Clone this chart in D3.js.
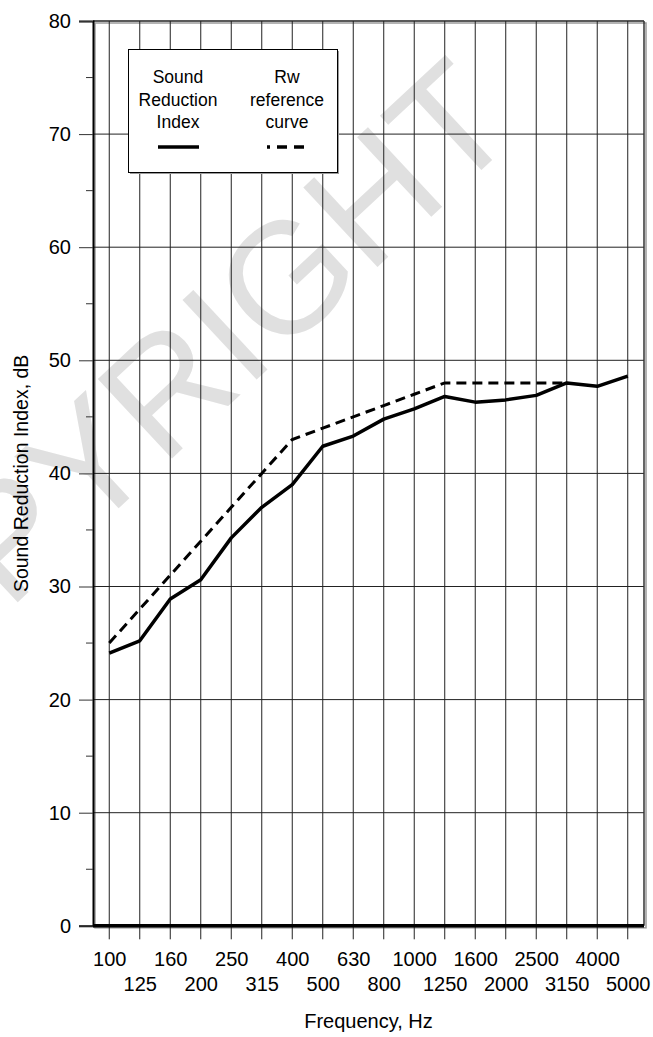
<!DOCTYPE html>
<html>
<head>
<meta charset="utf-8">
<script src="https://cdn.jsdelivr.net/npm/d3@7"></script>
<style>
  body { margin: 0; background: #fff; }
  svg text { font-family: "Liberation Sans", Arial, sans-serif; fill: #000; }
</style>
</head>
<body>
<svg id="svg-graph" width="653" height="1037"></svg>
<script>
//Third octave band centre frequencies (Hz)
const frequencies = ["100", "125", "160", "200", "250", "315", "400", "500", "630",
  "800", "1000", "1250", "1600", "2000", "2500", "3150", "4000", "5000"];
//Measured sound reduction index, dB
const soundReductionIndex = [24.1, 25.2, 28.9, 30.6, 34.3, 37.0, 39.0, 42.4, 43.3,
  44.8, 45.7, 46.8, 46.3, 46.5, 46.9, 48.0, 47.7, 48.6];
//Shifted Rw reference curve, dB (100 - 3150 Hz)
const rwFrequencies = ["100", "125", "160", "200", "250", "315", "400", "500", "630",
  "800", "1000", "1250", "1600", "2000", "2500", "3150"];
const rwReferenceCurve = [25, 28, 31, 34, 37, 40, 43, 44, 45, 46, 47, 48, 48, 48, 48, 48];
//Axis ticks
const yMajorTicks = [0, 10, 20, 30, 40, 50, 60, 70, 80];
const yMinorTicks = [5, 15, 25, 35, 45, 55, 65, 75];

document.addEventListener("DOMContentLoaded", () => {
  const svg = d3.select("#svg-graph");

  //Plot frame
  const left = 93, right = 644, top = 21, bottom = 925.8;

  const xScale = d3.scalePoint().domain(frequencies).range([left, right]).padding(0.533);
  const yScale = d3.scaleLinear().domain([0, 80]).range([bottom, top]);

  //Watermark in the background
  svg.append("text")
    .attr("transform", "translate(522,132) rotate(-43)")
    .attr("text-anchor", "end")
    .style("font-size", "158px")
    .style("fill", "#e0e0e0")
    .text("COPYRIGHT");

  //Frame shadow
  svg.append("rect")
    .attr("x", left + 2).attr("y", top + 2)
    .attr("width", right - left).attr("height", bottom - top)
    .attr("fill", "none").attr("stroke", "#9a9a9a").attr("stroke-width", 1.5);

  //Horizontal grid
  svg.append("g")
    .selectAll("line")
    .data(yMajorTicks.filter((d) => d > 0 && d < 80))
    .enter()
    .append("line")
    .attr("x1", left).attr("x2", right)
    .attr("y1", (d) => yScale(d)).attr("y2", (d) => yScale(d))
    .attr("stroke", "#222").attr("stroke-width", 1);

  //Vertical grid (runs through the axis as tick marks)
  svg.append("g")
    .selectAll("line")
    .data(frequencies)
    .enter()
    .append("line")
    .attr("x1", (d) => xScale(d)).attr("x2", (d) => xScale(d))
    .attr("y1", top).attr("y2", bottom + 13.5)
    .attr("stroke", "#222").attr("stroke-width", 1);

  //Frame
  svg.append("line").attr("x1", left).attr("x2", right).attr("y1", top).attr("y2", top)
    .attr("stroke", "#222").attr("stroke-width", 1.5);
  svg.append("line").attr("x1", right).attr("x2", right).attr("y1", top).attr("y2", bottom)
    .attr("stroke", "#333").attr("stroke-width", 1.5);

  //Y axis
  const yAxis = d3.axisLeft(yScale).tickValues(yMajorTicks).tickSize(14).tickPadding(8);
  const gy = svg.append("g").attr("transform", `translate(${left}, 0)`).call(yAxis);
  gy.select(".domain").attr("stroke", "#000").attr("stroke-width", 2);
  gy.selectAll(".tick line").attr("stroke", "#333");
  gy.selectAll(".tick text").style("font-size", "20px").attr("font-family", null);
  svg.append("g")
    .selectAll("line")
    .data(yMinorTicks)
    .enter()
    .append("line")
    .attr("x1", left - 7).attr("x2", left)
    .attr("y1", (d) => yScale(d)).attr("y2", (d) => yScale(d))
    .attr("stroke", "#333");

  //X axis labels in two staggered rows
  const xAxis = d3.axisBottom(xScale).tickSize(0).tickPadding(0);
  const gx = svg.append("g").attr("transform", `translate(0, ${bottom})`).call(xAxis);
  gx.select(".domain").remove();
  gx.selectAll(".tick text")
    .style("font-size", "20px").attr("font-family", null)
    .attr("dy", null)
    .attr("y", (d, i) => (i % 2 === 0 ? 40 : 65));

  //Bottom axis line
  svg.append("line").attr("x1", left).attr("x2", right).attr("y1", bottom).attr("y2", bottom)
    .attr("stroke", "#000").attr("stroke-width", 3.5);

  //Axis titles
  svg.append("text")
    .attr("x", (left + right) / 2).attr("y", 1028)
    .attr("text-anchor", "middle").style("font-size", "20px")
    .text("Frequency, Hz");
  svg.append("text")
    .attr("transform", `translate(28, ${(top + bottom) / 2}) rotate(-90)`)
    .attr("text-anchor", "middle").style("font-size", "19.5px")
    .text("Sound Reduction Index, dB");

  //Data lines
  const line = d3.line()
    .x((d) => xScale(d[0]))
    .y((d) => yScale(d[1]));

  svg.append("path")
    .datum(d3.zip(rwFrequencies, rwReferenceCurve))
    .attr("d", line)
    .attr("fill", "none").attr("stroke", "#000")
    .attr("stroke-width", 3).attr("stroke-dasharray", "10,6");

  svg.append("path")
    .datum(d3.zip(frequencies, soundReductionIndex))
    .attr("d", line)
    .attr("fill", "none").attr("stroke", "#000")
    .attr("stroke-width", 3.5).attr("stroke-linejoin", "round");

  //Legend
  const legend = svg.append("g");
  legend.append("rect")
    .attr("x", 130).attr("y", 51).attr("width", 209).attr("height", 123)
    .attr("fill", "#9a9a9a");
  legend.append("rect")
    .attr("x", 128.5).attr("y", 49.5).attr("width", 209).attr("height", 123)
    .attr("fill", "#fff").attr("stroke", "#000").attr("stroke-width", 1);
  const legendItems = [
    { lines: ["Sound", "Reduction", "Index"], cx: 178, dash: null },
    { lines: ["Rw", "reference", "curve"], cx: 287, dash: "10,7" },
  ];
  legendItems.forEach((item) => {
    item.lines.forEach((t, i) => {
      legend.append("text")
        .attr("x", item.cx).attr("y", 83 + i * 22.5)
        .attr("text-anchor", "middle").style("font-size", "17.5px")
        .text(t);
    });
    legend.append("line")
      .attr("x1", item.cx - 20).attr("x2", item.cx + 21)
      .attr("y1", 147).attr("y2", 147)
      .attr("stroke", "#000").attr("stroke-width", 3.5)
      .attr("stroke-dasharray", item.dash)
      .attr("stroke-dashoffset", item.dash ? 7 : null);
  });
});
</script>
</body>
</html>
